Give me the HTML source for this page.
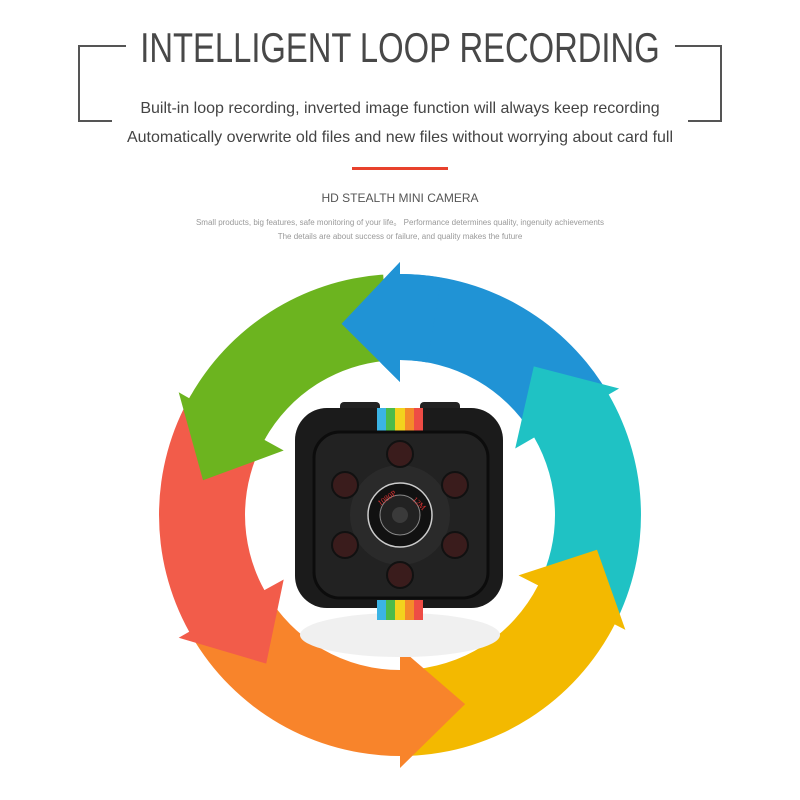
<!DOCTYPE html>
<html><head><meta charset="utf-8"><style>
body{margin:0;width:800px;height:800px;background:#fff;overflow:hidden;position:relative;font-family:"Liberation Sans",sans-serif}
.t{position:absolute;left:0;width:800px;text-align:center}
.ln{position:absolute;background:#555}
</style></head><body>
<div class="ln" style="left:78px;top:45px;width:48px;height:2px"></div>
<div class="ln" style="left:78px;top:45px;width:2px;height:77px"></div>
<div class="ln" style="left:78px;top:120px;width:34px;height:2px"></div>
<div class="ln" style="left:675px;top:45px;width:47px;height:2px"></div>
<div class="ln" style="left:720px;top:45px;width:2px;height:77px"></div>
<div class="ln" style="left:688px;top:120px;width:34px;height:2px"></div>
<div class="t" style="top:24px;font-size:42px;line-height:48px;color:#484848"><span style="display:inline-block;transform:scaleX(0.78)">INTELLIGENT LOOP RECORDING</span></div>
<div class="t" style="top:100px;font-size:16px;color:#444">Built-in loop recording, inverted image function will always keep recording</div>
<div class="t" style="top:129px;font-size:16px;color:#444">Automatically overwrite old files and new files without worrying about card full</div>
<div style="position:absolute;left:352px;top:167px;width:96px;height:3px;background:#e8412c"></div>
<div class="t" style="top:191px;font-size:12px;color:#555">HD STEALTH MINI CAMERA</div>
<div class="t" style="top:217px;font-size:8px;color:#999">Small products, big features, safe monitoring of your life。 Performance determines quality, ingenuity achievements</div>
<div class="t" style="top:232px;font-size:8px;color:#999">The details are about success or failure, and quality makes the future</div>
<svg id="s" width="800" height="800" style="position:absolute;left:0;top:0">
<g id="arr"></g>
<ellipse cx="400" cy="635" rx="100" ry="22" fill="#f0f0f0"/>
<rect x="340" y="402" width="40" height="15" rx="4" fill="#222"/>
<rect x="420" y="402" width="40" height="15" rx="4" fill="#222"/>
<rect x="295" y="408" width="208" height="200" rx="32" fill="#1b1b1b"/>
<g>
<rect x="377" y="408" width="9" height="25" fill="#3bb4e5"/><rect x="386" y="408" width="9" height="25" fill="#4cbb4a"/><rect x="395" y="408" width="10" height="25" fill="#f3d21d"/><rect x="405" y="408" width="9" height="25" fill="#f48a2a"/><rect x="414" y="408" width="9" height="25" fill="#ee4c45"/>
<rect x="377" y="600" width="9" height="20" fill="#3bb4e5"/><rect x="386" y="600" width="9" height="20" fill="#4cbb4a"/><rect x="395" y="600" width="10" height="20" fill="#f3d21d"/><rect x="405" y="600" width="9" height="20" fill="#f48a2a"/><rect x="414" y="600" width="9" height="20" fill="#ee4c45"/>
</g>
<rect x="314" y="432" width="174" height="166" rx="26" fill="#222" stroke="#0c0c0c" stroke-width="3"/>
<circle cx="400" cy="515" r="50" fill="#2a2a2a"/>
<circle cx="400" cy="515" r="32" fill="#111" stroke="#ccc" stroke-width="1.5"/>
<circle cx="400" cy="515" r="20" fill="#222" stroke="#888" stroke-width="1"/>
<circle cx="400" cy="515" r="8" fill="#3a3a3a"/>
<g fill="#3a1c1c" stroke="#111" stroke-width="2">
<circle cx="400" cy="454" r="13"/><circle cx="400" cy="575" r="13"/>
<circle cx="345" cy="485" r="13"/><circle cx="455" cy="485" r="13"/>
<circle cx="345" cy="545" r="13"/><circle cx="455" cy="545" r="13"/>
</g>
<text x="380" y="506" font-size="8" fill="#d33" font-family="Liberation Serif" transform="rotate(-35 380 506)">1080P</text>
<text x="412" y="500" font-size="8" fill="#d33" font-family="Liberation Serif" transform="rotate(45 412 500)">12M</text>
</svg>
<script>
var cx=400,cy=515;
function p(r,a){a=a*Math.PI/180;return (cx+r*Math.cos(a)).toFixed(1)+","+(cy-r*Math.sin(a)).toFixed(1);}
function arrow(a0,a1,a2,col){
 var ri=155,ro=241,hi=133,ho=253,tr=200;
 var d="M"+p(ri,a0)+" L"+p(ro,a0)+" A"+ro+" "+ro+" 0 0 0 "+p(ro,a1)+" L"+p(ho,a1)+" L"+p(tr,a2)+" L"+p(hi,a1)+" L"+p(ri,a1)+" A"+ri+" "+ri+" 0 0 1 "+p(ri,a0)+" Z";
 return '<path d="'+d+'" fill="'+col+'"/>';
}
var h="";
h+=arrow(32,90,107,"#2093d5");
h+=arrow(-27,30,48,"#1fc2c4");
h+=arrow(-88,-27,-10,"#f3b900");
h+=arrow(-150,-90,-71,"#f8842b");
h+=arrow(150,209,228,"#f25c4a");
h+=arrow(94,151,170,"#6cb41f");
h+=arrow(80,90,107,"#2093d5");
document.getElementById("arr").innerHTML=h;
</script>
</body></html>
